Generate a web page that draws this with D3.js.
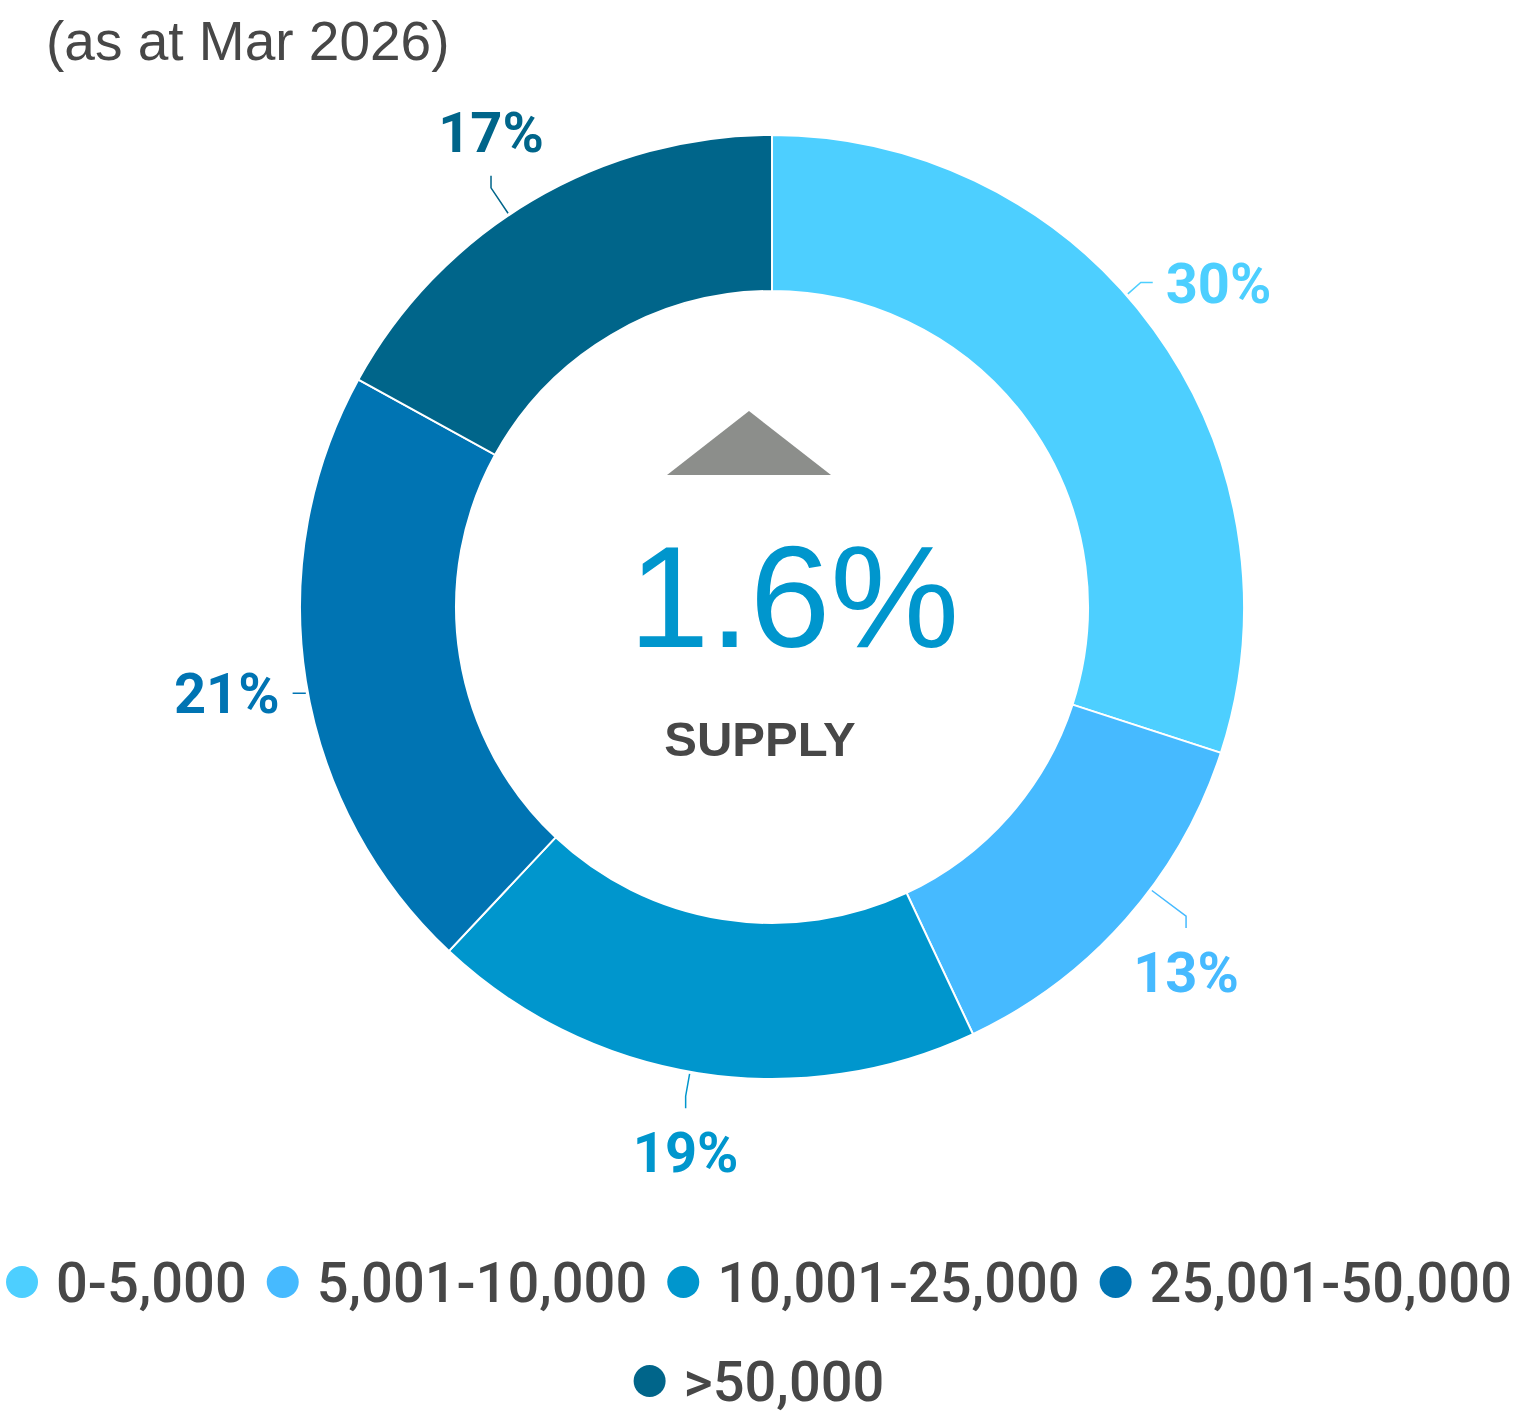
<!DOCTYPE html>
<html>
<head>
<meta charset="utf-8">
<script src="https://cdn.jsdelivr.net/npm/d3@7"></script>
<style>
  body { margin: 0; background: #fff; }
</style>
</head>
<body>
<div id="chart"></div>
<script>
var categories = ["0-5,000", "5,001-10,000", "10,001-25,000", "25,001-50,000", ">50,000"];
var shares = [30, 13, 19, 21, 17];
var colors = ["#4dcfff", "#46baff", "#0096cd", "#0074b3", "#00658a"];
var subtitle = "(as at Mar 2026)";
var centreValue = "1.6%";
var centreLabel = "SUPPLY";

var width = 1514, height = 1413;
var cx = 772, cy = 607;
var outerR = 472, innerR = 316;
var labelR = 552;

var svg = d3.select("#chart")
  .append("svg")
  .attr("width", width)
  .attr("height", height);

svg.append("text")
  .attr("x", 46)
  .attr("y", 60)
  .attr("font-family", "Liberation Sans, Arial, sans-serif")
  .attr("font-size", 55)
  .attr("fill", "#474747")
  .text(subtitle);

var data = shares.map(function(v, i) {
  return { name: categories[i], value: v, color: colors[i] };
});

var pie = d3.pie().sort(null).value(function(d) { return d.value; });
var arc = d3.arc().innerRadius(innerR).outerRadius(outerR);
var arcs = pie(data);

var g = svg.append("g").attr("transform", "translate(" + cx + "," + cy + ")");

g.selectAll("path.slice")
  .data(arcs)
  .enter()
  .append("path")
  .attr("class", "slice")
  .attr("d", arc)
  .attr("fill", function(d) { return d.data.color; })
  .attr("stroke", "#fff")
  .attr("stroke-width", 2);

// data labels with crooked connectors
var labels = g.selectAll("g.lab")
  .data(arcs)
  .enter()
  .append("g")
  .attr("class", "lab");

labels.each(function(d) {
  var sel = d3.select(this);
  var mid = (d.startAngle + d.endAngle) / 2;
  var s = Math.sin(mid), c = Math.cos(mid);
  var lx = labelR * s, ly = -labelR * c;
  var t = sel.append("text")
    .attr("x", lx)
    .attr("y", ly + 20)
    .attr("text-anchor", "middle")
    .attr("font-family", "Roboto, sans-serif")
    .attr("font-weight", "bold")
    .attr("font-size", 56)
    .attr("fill", d.data.color)
    .text(d.data.value + "%");
  var w = t.node().getComputedTextLength();
  var ax, ay, ex, ey;
  if (Math.abs(s) > 0.8) {
    var sx = s > 0 ? 1 : -1;
    ax = lx - sx * (w / 2 + 13); ay = ly;
    ex = ax - sx * 12; ey = ay;
  } else {
    var sy = c > 0 ? 1 : -1;
    ax = lx; ay = ly + sy * 44;
    ex = ax; ey = ay + sy * 12;
  }
  var er = Math.sqrt(ex * ex + ey * ey);
  var px = ex / er * (outerR + 2), py = ey / er * (outerR + 2);
  sel.append("path")
    .attr("d", d3.line()([[ax, ay], [ex, ey], [px, py]]))
    .attr("fill", "none")
    .attr("stroke", d.data.color)
    .attr("stroke-width", 1.5);
});

// centre marker and value
var tri = d3.path();
tri.moveTo(-105, -132);
tri.lineTo(-23, -196);
tri.lineTo(59, -132);
tri.closePath();
g.append("path").attr("d", tri.toString()).attr("fill", "#8c8e8b");

g.append("text")
  .attr("x", 22)
  .attr("y", 40)
  .attr("text-anchor", "middle")
  .attr("font-family", "Liberation Sans, Arial, sans-serif")
  .attr("font-size", 145)
  .attr("fill", "#0096cd")
  .text(centreValue);

g.append("text")
  .attr("x", -12)
  .attr("y", 149)
  .attr("text-anchor", "middle")
  .attr("font-family", "Liberation Sans, Arial, sans-serif")
  .attr("font-weight", "bold")
  .attr("font-size", 49)
  .attr("fill", "#474747")
  .text(centreLabel);

// legend
var legendRows = [[0, 1, 2, 3], [4]];
var rowY = [1282, 1381];
var legend = svg.append("g").attr("class", "legend");
legendRows.forEach(function(row, ri) {
  var rg = legend.append("g");
  var x = 0;
  row.forEach(function(i) {
    var it = rg.append("g").attr("transform", "translate(" + x + ",0)");
    it.append("circle").attr("cx", 16).attr("cy", 0).attr("r", 16).attr("fill", colors[i]);
    var tx = it.append("text")
      .attr("x", 50)
      .attr("y", 20)
      .attr("font-family", "Roboto, sans-serif")
      .attr("font-weight", 500)
      .attr("font-size", 56)
      .attr("fill", "#474747")
      .text(categories[i]);
    x += 50 + tx.node().getComputedTextLength() + 20;
  });
  var total = x - 20;
  rg.attr("transform", "translate(" + (759 - total / 2) + "," + rowY[ri] + ")");
});
</script>
</body>
</html>
